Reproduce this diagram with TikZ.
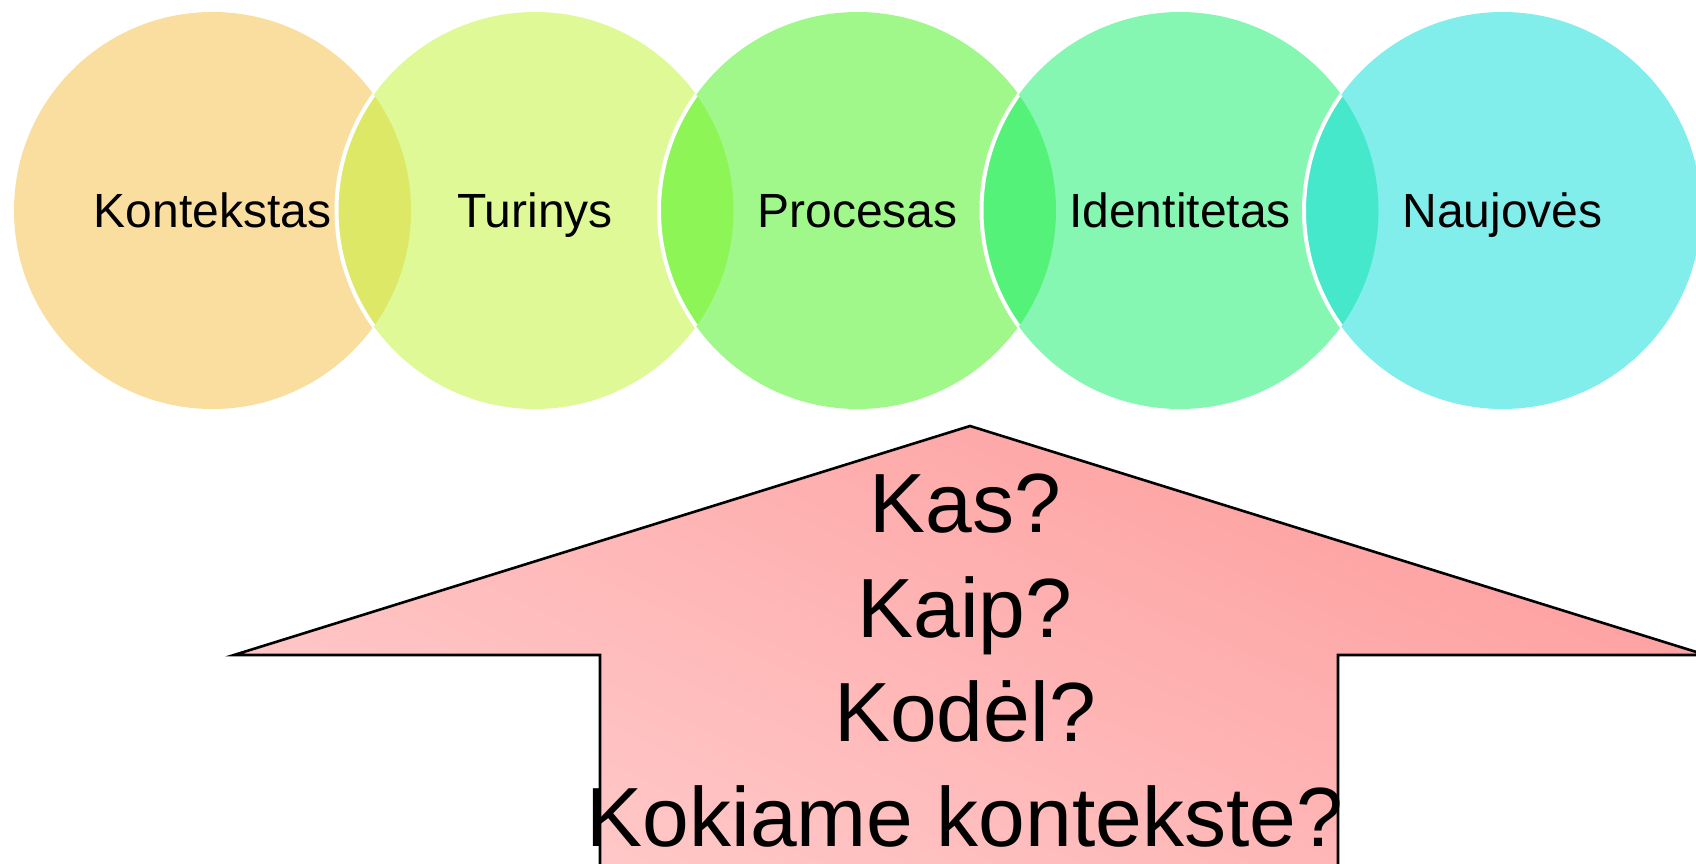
\documentclass[tikz,border=0pt]{standalone}
\usepackage{fontspec}
\setmainfont{Liberation Sans}
\usetikzlibrary{shadings}
\definecolor{cA}{HTML}{F9DE9F}
\definecolor{cB}{HTML}{DFF997}
\definecolor{cC}{HTML}{A0F88A}
\definecolor{cD}{HTML}{86F7B3}
\definecolor{cE}{HTML}{82EEEB}
\definecolor{lAB}{HTML}{DDE867}
\definecolor{lBC}{HTML}{8DF556}
\definecolor{lCD}{HTML}{55F27A}
\definecolor{lDE}{HTML}{46E8CC}
\definecolor{arTR}{HTML}{FD9696}
\definecolor{arTL}{HTML}{FFBBBB}
\definecolor{arBL}{HTML}{FFD2D2}
\definecolor{arBR}{HTML}{FFB0B0}
\tikzset{
  ring/.style={draw=white, line width=4pt},
  lab/.style={font=\fontsize{48}{58}\selectfont, inner sep=0pt, anchor=base},
  quest/.style={font=\fontsize{84}{104.5}\selectfont, inner sep=0pt, align=center, anchor=north},
  bigarrow/.style={draw=black, line width=2.6pt, upper left=arTL, upper right=arTR, lower left=arBL, lower right=arBR}
}
\begin{document}
\begin{tikzpicture}[x=1pt,y=-1pt]
\useasboundingbox (0,0) rectangle (1696,864);
\clip (0,0) rectangle (1696,864);
\coordinate (pA) at (212.5,210.5);
\coordinate (pB) at (535,210.5);
\coordinate (pC) at (857.5,210.5);
\coordinate (pD) at (1180,210.5);
\coordinate (pE) at (1502.5,210.5);
% circle 1
\fill[cA] (pA) circle (198.5pt);
% circle 2
\fill[cB] (pB) circle (198.5pt);
\begin{scope}\clip (pA) circle (198.5pt); \fill[lAB] (pB) circle (198.5pt); \draw[ring] (pB) circle (198.5pt); \end{scope}
% circle 3
\fill[cC] (pC) circle (198.5pt);
\begin{scope}\clip (pB) circle (198.5pt); \fill[lBC] (pC) circle (198.5pt); \draw[ring] (pC) circle (198.5pt); \end{scope}
% circle 4
\fill[cD] (pD) circle (198.5pt);
\begin{scope}\clip (pC) circle (198.5pt); \fill[lCD] (pD) circle (198.5pt); \draw[ring] (pD) circle (198.5pt); \end{scope}
% circle 5
\fill[cE] (pE) circle (198.5pt);
\begin{scope}\clip (pD) circle (198.5pt); \fill[lDE] (pE) circle (198.5pt); \draw[ring] (pE) circle (198.5pt); \end{scope}
% labels
\node[lab] (tA) at (212.5,227) {Kontekstas};
\node[lab] (tB) at (535,227) {Turinys};
\node[lab] (tC) at (857.5,227) {Procesas};
\node[lab] (tD) at (1180,227) {Identitetas};
\node[lab] (tE) at (1502.5,227) {Naujovės};
% arrow
\shade[bigarrow] (970,426) -- (1706,655) -- (1338,655) -- (1338,900) -- (600,900) -- (600,655) -- (234,655) -- cycle;
\node[quest] (q) at (965,474) {Kas?\\Kaip?\\Kodėl?\\Kokiame kontekste?};
\end{tikzpicture}
\end{document}
